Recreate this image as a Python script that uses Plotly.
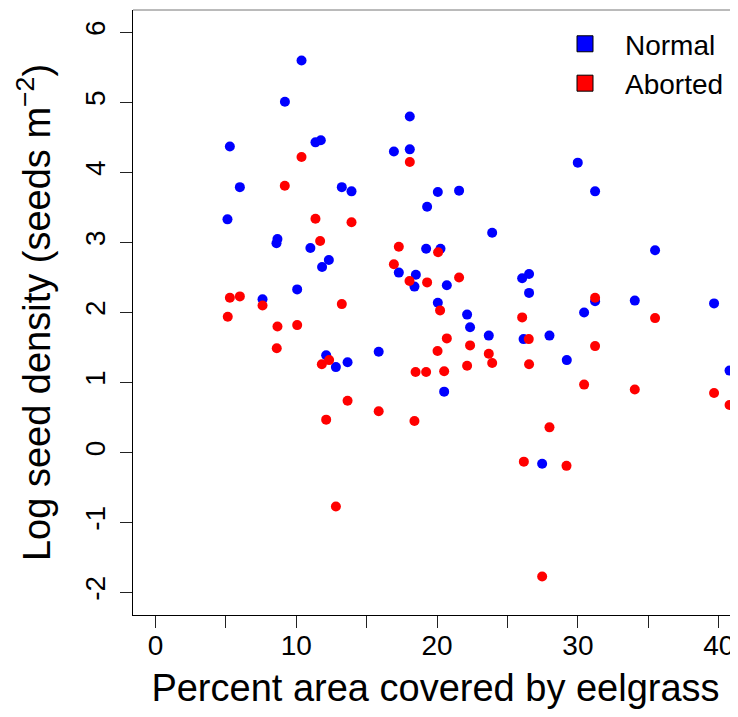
import plotly.graph_objects as go

# Normal seeds: percent eelgrass cover, log seed density
normal_x = [10.37, 9.19, 5.28, 11.36, 11.74, 5.99, 13.23, 13.92, 5.11, 8.66,
            8.59, 11.00, 12.31, 11.83, 10.06, 7.60, 12.12, 12.81, 13.64, 15.85,
            18.06, 16.93, 18.06, 20.05, 21.56, 19.29, 23.91, 19.22, 20.24, 17.28,
            18.49, 18.39, 20.69, 26.04, 26.53, 26.53, 20.05, 22.13, 22.34, 23.67,
            26.14, 27.98, 29.21, 20.50, 27.46, 29.99, 31.22, 35.48, 31.22, 34.04,
            39.67, 30.44, 40.77]
normal_y = [5.60, 5.01, 4.37, 4.43, 4.46, 3.79, 3.79, 3.73, 3.33, 3.05,
            2.99, 2.92, 2.75, 2.65, 2.33, 2.19, 1.39, 1.22, 1.29, 1.44,
            4.80, 4.30, 4.33, 3.72, 3.74, 3.51, 3.14, 2.91, 2.91, 2.57,
            2.54, 2.37, 2.39, 2.49, 2.55, 2.28, 2.14, 1.97, 1.79, 1.67,
            1.62, 1.67, 1.32, 0.87, -0.16, 4.14, 3.73, 2.89, 2.16, 2.17,
            2.13, 2.00, 1.17]

# Aborted seeds
aborted_x = [10.37, 9.18, 11.36, 13.92, 11.69, 5.28, 5.99, 7.60, 13.23, 5.13,
             8.66, 10.06, 8.61, 12.33, 11.81, 13.64, 15.85, 12.12, 12.81, 18.06,
             17.28, 20.07, 16.93, 18.04, 19.29, 21.56, 20.21, 26.04, 26.51, 20.69,
             20.03, 22.34, 23.67, 23.91, 26.53, 18.47, 19.22, 20.50, 22.13, 18.39,
             27.98, 26.16, 29.19, 27.46, 31.22, 35.48, 31.22, 30.44, 34.04, 39.67,
             40.77]
aborted_y = [4.22, 3.81, 3.34, 3.29, 3.02, 2.21, 2.23, 2.10, 2.12, 1.94,
             1.80, 1.82, 1.49, 1.32, 1.26, 0.74, 0.59, 0.47, -0.77, 4.15,
             2.94, 2.86, 2.69, 2.45, 2.43, 2.50, 2.03, 1.93, 1.62, 1.63,
             1.45, 1.53, 1.41, 1.28, 1.26, 1.15, 1.15, 1.16, 1.24, 0.45,
             0.36, -0.13, -0.19, -1.77, 2.21, 1.92, 1.52, 0.97, 0.90, 0.85,
             0.68]

x_ticks = [0, 10, 20, 30, 40]
x_ticktext = ["0", "10", "20", "30", "40"]
x_minor_step = 5
y_ticks = [-2, -1, 0, 1, 2, 3, 4, 5, 6]
y_ticktext = ["-2", "-1", "0", "1", "2", "3", "4", "5", "6"]

series_names = ["Normal", "Aborted"]
series_colors = ["#0000FF", "#FF0000"]

FONT = "Liberation Sans, Arial, Helvetica, sans-serif"

fig = go.Figure()

for name, xs, ys, col in [(series_names[0], normal_x, normal_y, series_colors[0]),
                          (series_names[1], aborted_x, aborted_y, series_colors[1])]:
    fig.add_trace(go.Scatter(
        x=xs, y=ys, mode="markers", name=name, legendgroup=name,
        showlegend=False,
        marker=dict(color=col, size=10, line=dict(width=0)),
    ))

# legend entries drawn as filled squares with black border
for name, col in zip(series_names, series_colors):
    fig.add_trace(go.Scatter(
        x=[None], y=[None], mode="markers", name=name, legendgroup=name,
        showlegend=True,
        marker=dict(color=col, size=16, symbol="square",
                    line=dict(color="black", width=1)),
    ))

fig.update_layout(
    template="none",
    width=730, height=701,
    margin=dict(l=125, r=0, t=2, b=94, autoexpand=False),
    plot_bgcolor="white", paper_bgcolor="white",
    font=dict(family=FONT, color="black"),
    showlegend=True,
    legend=dict(
        x=0.681, y=0.985, xanchor="left", yanchor="top",
        font=dict(family=FONT, size=28, color="black"),
        bgcolor="rgba(0,0,0,0)", borderwidth=0,
        itemsizing="trace", itemwidth=70, tracegroupgap=0,
    ),
    xaxis=dict(
        range=[-1.6, 41.37], autorange=False, automargin=False,
        tickmode="array", tickvals=x_ticks, ticktext=x_ticktext,
        ticks="outside", ticklen=12, tickwidth=1, tickcolor="#222",
        minor=dict(ticks="outside", ticklen=12, tickwidth=1, tickcolor="#222",
                   tick0=0, dtick=x_minor_step, showgrid=False),
        showline=True, linecolor="black", linewidth=1,
        showgrid=False, zeroline=False,
        tickfont=dict(family=FONT, size=28, color="black"),
        ticklabelstandoff=-7,
        title=dict(text="Percent area covered by eelgrass",
                   font=dict(family=FONT, size=38, color="black"),
                   standoff=14),
    ),
    yaxis=dict(
        range=[-2.32, 6.32], autorange=False, automargin=False,
        tickmode="array", tickvals=y_ticks, ticktext=y_ticktext,
        ticks="outside", ticklen=12, tickwidth=1, tickcolor="#222",
        showline=True, linecolor="black", linewidth=1,
        showgrid=False, zeroline=False,
        tickangle=-90,
        tickfont=dict(family=FONT, size=28, color="black"),
        ticklabelstandoff=4,
        title=dict(text="Log seed density (seeds m<sup>\u22122</sup>)",
                   font=dict(family=FONT, size=38, color="black"),
                   standoff=17),
    ),
    shapes=[dict(type="line", xref="paper", yref="paper", x0=0, x1=1, y0=1, y1=1,
                 line=dict(color="#777777", width=1))],
)

fig.write_html("out.html")
